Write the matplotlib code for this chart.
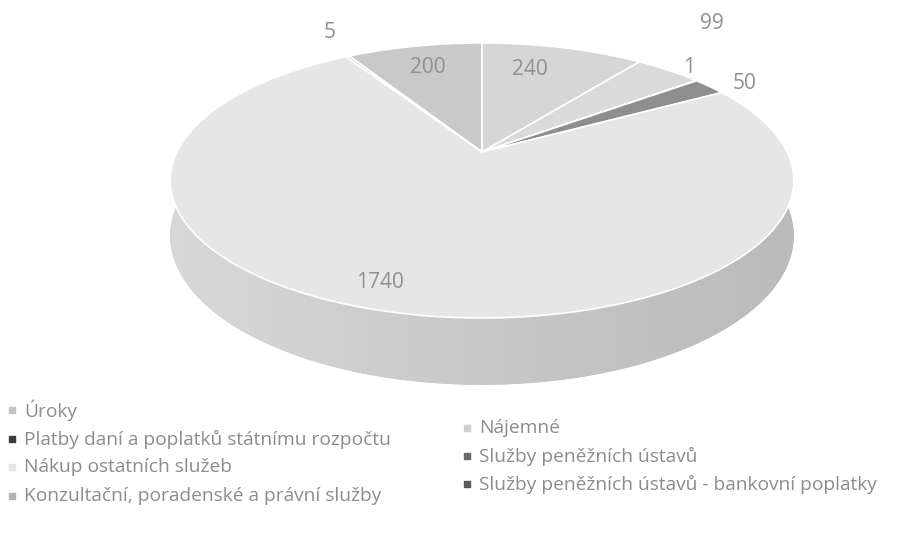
import numpy as np
import matplotlib
matplotlib.use("Agg")
import matplotlib.pyplot as plt
from matplotlib.patches import Polygon
from matplotlib.colors import LinearSegmentedColormap

plt.rcParams['font.family'] = ['Open Sans', 'DejaVu Sans']

# ---- data (pie order, clockwise) ----
categories = ["Úroky", "Nájemné", "Platby daní a poplatků státnímu rozpočtu",
              "Služby peněžních ústavů", "Služby peněžních ústavů - bankovní poplatky",
              "Nákup ostatních služeb", "Konzultační, poradenské a právní služby"]
values = [200, 240, 99, 1, 50, 1740, 5]
labels = ["200", "240", "99", "1", "50", "1740", "5"]

# ---- styles ----
colors = ["#c9c9c9", "#d6d6d6", "#dadada", "#6a6a6a", "#8e8e8e", "#e6e6e6", "#cdcdcd"]
legend_colors = ["#c4c4c4", "#cfcfcf", "#3c3c3c", "#6a6a6a", "#5a5a5a", "#e4e4e4", "#b4b4b4"]
label_r = [0.77, 0.74, 1.55, 1.08, 1.13, 0.87, 1.28]
label_dphi = [0.0, -4.3, -7.1, -5.9, 2.4, 4.3, 2.5]
legend_order = [0, 2, 5, 6, 1, 3, 4]
legend_pos = [(12, 410), (12, 439), (12, 467), (12, 496), (467, 428), (467, 456), (467, 484)]

cx, cy = 482, 152
A, C, k, D = 305, 131.6, 0.207, 53.0

def proj(phi, r=1.0, z=0.0):
    u = r * np.sin(phi)
    v = r * np.cos(phi)
    s = 1.0 / (1.0 + k * v)
    return cx + A * u * s, cy - C * v * s + D * z * s

fig = plt.figure(figsize=(9.01, 5.59), dpi=100)
ax = fig.add_axes([0, 0, 1, 1])
ax.set_xlim(0, 901)
ax.set_ylim(559, 0)
ax.axis("off")

total = float(sum(values))
start = -values[0] / total * 2 * np.pi
bounds = [start]
for v in values:
    bounds.append(bounds[-1] + v / total * 2 * np.pi)

def shade(hexc, f):
    c = np.array(matplotlib.colors.to_rgb(hexc))
    return tuple(np.clip(c * f, 0, 1))

# sides (front part), each slice one polygon with a left-to-right gradient
x_left, _ = proj(np.pi + np.arccos(k))
x_right, _ = proj(np.pi - np.arccos(k))
for i, v in enumerate(values):
    a0, a1 = bounds[i], bounds[i + 1]
    lo, hi = max(a0, np.pi / 2 - 0.3), min(a1, 3 * np.pi / 2 + 0.3)
    if hi <= lo:
        continue
    ph = np.linspace(lo, hi, 300)
    top = [proj(p) for p in ph]
    bot = [proj(p, z=1) for p in ph[::-1]]
    poly = Polygon(top + bot, closed=True, facecolor=shade(colors[i], 0.87),
                   edgecolor="none", zorder=1)
    ax.add_patch(poly)
    cmap = LinearSegmentedColormap.from_list(
        "side", [shade(colors[i], 0.94), shade(colors[i], 0.87), shade(colors[i], 0.81)])
    grad = np.linspace(0, 1, 256)[None, :]
    im = ax.imshow(grad, cmap=cmap, extent=(x_left - 5, x_right + 5, 400, 100),
                   aspect="auto", zorder=1.5, interpolation="bilinear")
    im.set_clip_path(poly)

ax.set_xlim(0, 901)
ax.set_ylim(559, 0)

# top surface
for i, v in enumerate(values):
    a0, a1 = bounds[i], bounds[i + 1]
    ph = np.linspace(a0, a1, max(3, int((a1 - a0) / 0.01)))
    pts = [proj(0, r=0)] + [proj(p) for p in ph]
    ax.add_patch(Polygon(pts, closed=True, facecolor=colors[i], edgecolor="white",
                         lw=1.2, joinstyle="round", zorder=3))

# data labels
for i, v in enumerate(values):
    mid = 0.5 * (bounds[i] + bounds[i + 1]) + np.radians(label_dphi[i])
    x, y = proj(mid, r=label_r[i])
    ax.text(x, y, labels[i], ha="center", va="center", fontsize=15,
            color="#909090", zorder=5)

# legend
for (x, y), idx in zip(legend_pos, legend_order):
    ax.scatter([x], [y], marker="s", s=18, color=legend_colors[idx], zorder=5)
    ax.text(x + 12, y, categories[idx], ha="left", va="center", fontsize=13.8,
            color="#8c8c8c", zorder=5)

fig.savefig("out.png", dpi=100)
